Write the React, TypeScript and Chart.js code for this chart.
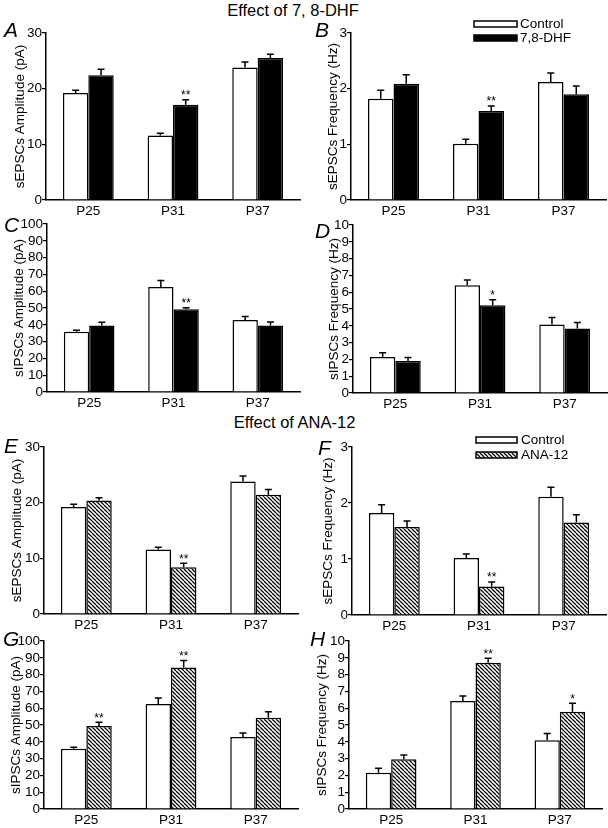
import React, { useEffect, useRef } from 'react';
import { Chart, registerables } from 'chart.js';
Chart.register(...registerables);

const FONT = "'Liberation Sans', Arial, Helvetica, sans-serif";

const ages = ['P25', 'P31', 'P37'];

// A: sEPSC amplitude, 7,8-DHF
const aCtrl = [19.2, 11.6, 23.8];
const aCtrlErr = [0.5, 0.4, 1.0];
const aDhf = [22.4, 17.1, 25.5];
const aDhfErr = [1.1, 0.9, 0.7];
const aStars = ['', '**', ''];

// B: sEPSC frequency, 7,8-DHF
const bCtrl = [1.82, 1.01, 2.12];
const bCtrlErr = [0.15, 0.08, 0.16];
const bDhf = [2.09, 1.6, 1.9];
const bDhfErr = [0.16, 0.09, 0.15];
const bStars = ['', '**', ''];

// C: sIPSC amplitude, 7,8-DHF
const cCtrl = [35.8, 62.5, 42.8];
const cCtrlErr = [1.0, 3.8, 2.2];
const cDhf = [39.6, 49.2, 39.6];
const cDhfErr = [1.9, 1.0, 2.0];
const cStars = ['', '**', ''];

// D: sIPSC frequency, 7,8-DHF
const dCtrl = [2.15, 6.42, 4.08];
const dCtrlErr = [0.25, 0.3, 0.42];
const dDhf = [1.9, 5.23, 3.84];
const dDhfErr = [0.22, 0.32, 0.36];
const dStars = ['', '*', ''];

// E: sEPSC amplitude, ANA-12
const eCtrl = [19.2, 11.6, 23.8];
const eCtrlErr = [0.5, 0.4, 1.0];
const eAna = [20.4, 8.4, 21.4];
const eAnaErr = [0.5, 0.7, 0.95];
const eStars = ['', '**', ''];

// F: sEPSC frequency, ANA-12
const fCtrl = [1.82, 1.02, 2.11];
const fCtrlErr = [0.15, 0.07, 0.17];
const fAna = [1.57, 0.51, 1.65];
const fAnaErr = [0.11, 0.08, 0.14];
const fStars = ['', '**', ''];

// G: sIPSC amplitude, ANA-12
const gCtrl = [35.8, 62.5, 42.8];
const gCtrlErr = [1.0, 3.6, 2.4];
const gAna = [49.4, 84.2, 54.3];
const gAnaErr = [2.2, 4.2, 3.6];
const gStars = ['**', '**', ''];

// H: sIPSC frequency, ANA-12
const hCtrl = [2.16, 6.43, 4.09];
const hCtrlErr = [0.26, 0.3, 0.41];
const hAna = [2.96, 8.71, 5.79];
const hAnaErr = [0.25, 0.26, 0.5];
const hStars = ['', '**', '*'];

function makeHatch(): CanvasPattern | string {
  const s = 4;
  const c = document.createElement('canvas');
  c.width = s;
  c.height = s;
  const g = c.getContext('2d');
  if (!g) return '#777';
  g.fillStyle = '#fff';
  g.fillRect(0, 0, s, s);
  g.strokeStyle = '#000';
  g.lineWidth = 1.25;
  g.beginPath();
  for (const k of [-s, 0, s]) {
    g.moveTo(k, 0);
    g.lineTo(k + s, s);
  }
  g.stroke();
  const p = g.createPattern(c, 'repeat');
  return p || '#777';
}

type LegendCfg = { x: number; y1: number; y2: number; w: number; h: number; tx: number; labels: string[] };

type PanelProps = {
  px: number;
  l: number;
  t: number;
  r: number;
  b: number;
  yMax: number;
  yStep: number;
  yTitle: string;
  titleX: number;
  ctrl: number[];
  ctrlErr: number[];
  trt: number[];
  trtErr: number[];
  stars: string[];
  hatch: boolean;
  legend?: LegendCfg;
};

function Panel(p: PanelProps) {
  const ref = useRef<HTMLCanvasElement>(null);
  const padTop = 14;
  const canvasTop = p.t - padTop;
  const canvasW = Math.min(p.r + 3, 608) - p.px;
  const canvasH = p.b + 24 - canvasTop;
  const padRight = canvasW - (p.r - p.px);
  const yW = p.l - p.px;

  useEffect(() => {
    if (!ref.current) return;
    const trtFill = p.hatch ? makeHatch() : '#000';
    const errs = [p.ctrlErr, p.trtErr];
    const starsArr = [['', '', ''], p.stars];
    const errPlugin = {
      id: 'errbars',
      afterDatasetsDraw(chart: any) {
        const ctx = chart.ctx;
        const ys = chart.scales.y;
        ctx.save();
        chart.data.datasets.forEach((ds: any, di: number) => {
          const meta = chart.getDatasetMeta(di);
          meta.data.forEach((el: any, i: number) => {
            const v = ds.data[i];
            const e = errs[di][i];
            const base = ys.getPixelForValue(v);
            const top = ys.getPixelForValue(v + e);
            ctx.strokeStyle = '#000';
            ctx.lineWidth = 1.5;
            ctx.beginPath();
            ctx.moveTo(el.x, base);
            ctx.lineTo(el.x, top);
            ctx.moveTo(el.x - 3.5, top);
            ctx.lineTo(el.x + 3.5, top);
            ctx.stroke();
            const st = starsArr[di][i];
            if (st) {
              ctx.fillStyle = '#000';
              ctx.font = `12px ${FONT}`;
              ctx.textAlign = 'center';
              ctx.textBaseline = 'alphabetic';
              ctx.fillText(st, el.x, top - 0.5);
            }
          });
        });
        ctx.restore();
      },
      afterDraw(chart: any) {
        const lg = p.legend;
        if (!lg) return;
        const ctx = chart.ctx;
        ctx.save();
        const ox = p.px;
        const oy = canvasTop;
        const fills = ['#fff', trtFill];
        [lg.y1, lg.y2].forEach((yy, k) => {
          ctx.fillStyle = fills[k];
          ctx.fillRect(lg.x - ox, yy - oy, lg.w, lg.h);
          ctx.strokeStyle = '#000';
          ctx.lineWidth = 1.5;
          ctx.strokeRect(lg.x - ox, yy - oy, lg.w, lg.h);
          ctx.fillStyle = '#000';
          ctx.font = `13.5px ${FONT}`;
          ctx.textAlign = 'left';
          ctx.textBaseline = 'middle';
          ctx.fillText(lg.labels[k], lg.tx - ox, yy - oy + lg.h / 2 + 0.5);
        });
        ctx.restore();
      },
    };
    const chart = new Chart(ref.current, {
      type: 'bar',
      data: {
        labels: ages,
        datasets: [
          {
            label: 'Control',
            data: p.ctrl,
            backgroundColor: '#fff',
            borderColor: '#000',
            borderWidth: 1.5,
            categoryPercentage: 0.6,
            barPercentage: 1,
          },
          {
            label: p.legend ? p.legend.labels[1] : 'Treatment',
            data: p.trt,
            backgroundColor: trtFill as any,
            borderColor: '#000',
            borderWidth: 1.5,
            categoryPercentage: 0.6,
            barPercentage: 1,
          },
        ],
      },
      options: {
        animation: false,
        responsive: false,
        maintainAspectRatio: false,
        devicePixelRatio: 1,
        layout: { padding: { top: padTop, right: padRight, left: 0, bottom: 0 } },
        plugins: { legend: { display: false }, tooltip: { enabled: false } },
        scales: {
          x: {
            type: 'category',
            offset: true,
            grid: { display: false, drawTicks: false },
            border: { display: true, color: '#000', width: 1.5 },
            ticks: { color: '#000', font: { family: FONT, size: 13.5 }, padding: 3, maxRotation: 0, autoSkip: false },
            afterFit: (s: any) => {
              s.height = 24;
            },
          },
          y: {
            min: 0,
            max: p.yMax,
            ticks: { stepSize: p.yStep, color: '#000', font: { family: FONT, size: 13.5 }, padding: 0, autoSkip: false },
            grid: { display: true, drawOnChartArea: false, drawTicks: true, tickLength: 4, color: '#000', lineWidth: 1.2 },
            border: { display: true, color: '#000', width: 1.5 },
            title: {
              display: true,
              text: p.yTitle,
              color: '#000',
              font: { family: FONT, size: 13.5 },
              padding: { top: p.titleX - p.px - 8.1, bottom: 0 },
            },
            afterFit: (s: any) => {
              s.width = yW;
            },
          },
        },
      },
      plugins: [errPlugin],
    } as any);
    return () => chart.destroy();
  }, []);

  return (
    <canvas
      ref={ref}
      width={canvasW}
      height={canvasH}
      style={{ position: 'absolute', left: p.px, top: canvasTop, width: canvasW, height: canvasH }}
    />
  );
}

const letterStyle = (left: number, capTop: number): React.CSSProperties => ({
  position: 'absolute',
  left,
  top: capTop - 3,
  fontSize: 21,
  lineHeight: '21px',
  fontStyle: 'italic',
  fontFamily: FONT,
  color: '#000',
});

export default function App() {
  useEffect(() => {
    document.body.style.margin = '0';
    document.body.style.overflow = 'hidden';
  }, []);
  return (
    <div style={{ position: 'absolute', left: 0, top: 0, width: 608, height: 828, background: '#fff', fontFamily: FONT, overflow: 'hidden' }}>
      <div style={{ position: 'absolute', left: 0, width: 586, top: 1, textAlign: 'center', fontSize: 16.5, lineHeight: '18px', color: '#000' }}>
        Effect of 7, 8-DHF
      </div>
      <div style={{ position: 'absolute', left: 0, width: 589, top: 413, textAlign: 'center', fontSize: 16.5, lineHeight: '18px', color: '#000' }}>
        Effect of ANA-12
      </div>

      <Panel px={0} l={46} t={33} r={300} b={200} yMax={30} yStep={10} yTitle="sEPSCs Amplitude (pA)" titleX={20}
        ctrl={aCtrl} ctrlErr={aCtrlErr} trt={aDhf} trtErr={aDhfErr} stars={aStars} hatch={false} />
      <Panel px={304} l={351} t={33} r={606} b={200} yMax={3} yStep={1} yTitle="sEPSCs Frequency (Hz)" titleX={333}
        ctrl={bCtrl} ctrlErr={bCtrlErr} trt={bDhf} trtErr={bDhfErr} stars={bStars} hatch={false}
        legend={{ x: 474, y1: 21, y2: 35, w: 43, h: 6, tx: 520, labels: ['Control', '7,8-DHF'] }} />
      <Panel px={0} l={47} t={224} r={300} b={392} yMax={100} yStep={10} yTitle="sIPSCs Amplitude (pA)" titleX={19}
        ctrl={cCtrl} ctrlErr={cCtrlErr} trt={cDhf} trtErr={cDhfErr} stars={cStars} hatch={false} />
      <Panel px={304} l={353} t={225} r={607} b={393} yMax={10} yStep={1} yTitle="sIPSCs Frequency (Hz)" titleX={334}
        ctrl={dCtrl} ctrlErr={dCtrlErr} trt={dDhf} trtErr={dDhfErr} stars={dStars} hatch={false} />
      <Panel px={0} l={44} t={447} r={298} b={614} yMax={30} yStep={10} yTitle="sEPSCs Amplitude (pA)" titleX={17.5}
        ctrl={eCtrl} ctrlErr={eCtrlErr} trt={eAna} trtErr={eAnaErr} stars={eStars} hatch={true} />
      <Panel px={304} l={352} t={447} r={606} b={615} yMax={3} yStep={1} yTitle="sEPSCs Frequency (Hz)" titleX={328}
        ctrl={fCtrl} ctrlErr={fCtrlErr} trt={fAna} trtErr={fAnaErr} stars={fStars} hatch={true}
        legend={{ x: 476, y1: 437, y2: 452, w: 41, h: 6, tx: 521, labels: ['Control', 'ANA-12'] }} />
      <Panel px={0} l={44} t={641} r={298} b={809} yMax={100} yStep={10} yTitle="sIPSCs Amplitude (pA)" titleX={16}
        ctrl={gCtrl} ctrlErr={gCtrlErr} trt={gAna} trtErr={gAnaErr} stars={gStars} hatch={true} />
      <Panel px={304} l={349} t={641} r={602} b={809} yMax={10} yStep={1} yTitle="sIPSCs Frequency (Hz)" titleX={322}
        ctrl={hCtrl} ctrlErr={hCtrlErr} trt={hAna} trtErr={hAnaErr} stars={hStars} hatch={true} />

      <div style={letterStyle(4, 22)}>A</div>
      <div style={letterStyle(315, 22)}>B</div>
      <div style={letterStyle(4, 217)}>C</div>
      <div style={letterStyle(315, 223)}>D</div>
      <div style={letterStyle(4, 438)}>E</div>
      <div style={letterStyle(318, 440)}>F</div>
      <div style={letterStyle(3, 631)}>G</div>
      <div style={letterStyle(310, 631)}>H</div>
    </div>
  );
}
